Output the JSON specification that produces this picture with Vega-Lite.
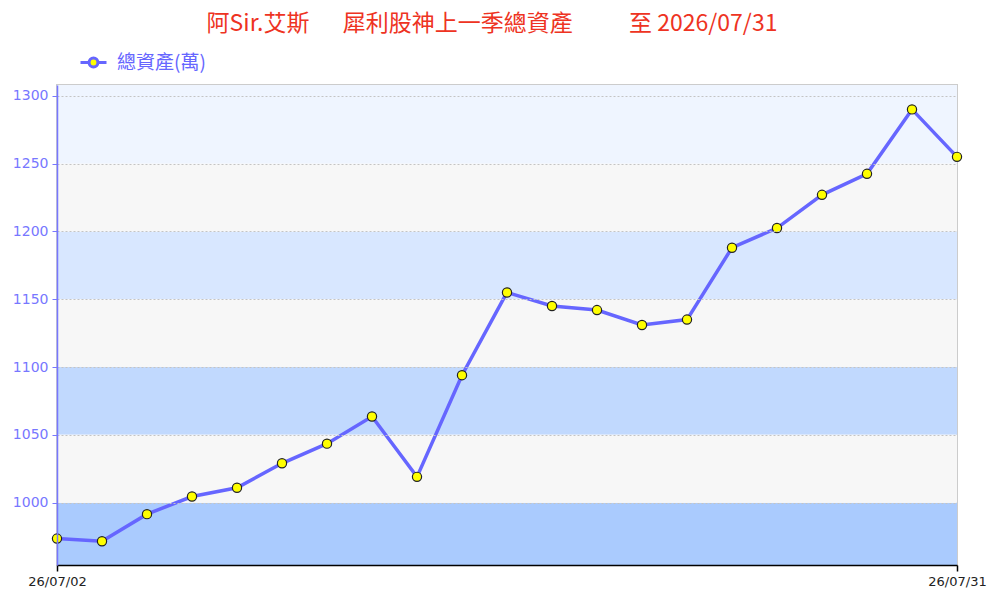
{
  "$schema": "https://vega.github.io/schema/vega-lite/v6.json",
  "width": 900,
  "height": 480,
  "autosize": {"type": "none"},
  "padding": {"left": 57, "top": 85, "right": 39, "bottom": 35},
  "background": "white",
  "title": {
    "text": "阿Sir.艾斯\u3000\u00a0\u00a0犀利股神上一季總資產\u3000\u3000\u00a0\u00a0至 2026/07/31",
    "color": "#ee3322",
    "font": "Noto Sans CJK TC",
    "fontSize": 23,
    "fontWeight": "normal",
    "anchor": "middle",
    "dx": -15,
    "offset": 12
  },
  "config": {
    "view": {"stroke": "#cccccc", "strokeWidth": 2},
    "font": "DejaVu Sans"
  },
  "layer": [
    {
      "data": {"values": [
        {"lo": 954, "hi": 1000},
        {"lo": 1050, "hi": 1100},
        {"lo": 1150, "hi": 1200},
        {"lo": 1250, "hi": 1308}
      ]},
      "mark": {"type": "rect"},
      "encoding": {
        "x": {"datum": "26/07/02", "type": "ordinal"},
        "x2": {"datum": "26/07/31"},
        "y": {"field": "lo", "type": "quantitative"},
        "y2": {"field": "hi"},
        "fill": {
          "field": "lo", "type": "quantitative",
          "scale": {"domain": [954, 1250], "range": ["#aacbfe", "#eff5ff"]},
          "legend": null
        }
      }
    },
    {
      "data": {"values": [
        {"lo": 1000, "hi": 1050},
        {"lo": 1100, "hi": 1150},
        {"lo": 1200, "hi": 1250}
      ]},
      "mark": {"type": "rect", "fill": "#f7f7f7"},
      "encoding": {
        "x": {"datum": "26/07/02", "type": "ordinal"},
        "x2": {"datum": "26/07/31"},
        "y": {"field": "lo", "type": "quantitative"},
        "y2": {"field": "hi"}
      }
    },
    {
      "data": {"values": [
        {"date": "26/07/02", "value": 973.5},
        {"date": "26/07/03", "value": 971.5},
        {"date": "26/07/06", "value": 991.5},
        {"date": "26/07/07", "value": 1004.5},
        {"date": "26/07/08", "value": 1011},
        {"date": "26/07/09", "value": 1029},
        {"date": "26/07/13", "value": 1043.5},
        {"date": "26/07/14", "value": 1063.5},
        {"date": "26/07/15", "value": 1019},
        {"date": "26/07/16", "value": 1094},
        {"date": "26/07/17", "value": 1155},
        {"date": "26/07/20", "value": 1145},
        {"date": "26/07/21", "value": 1142},
        {"date": "26/07/22", "value": 1131},
        {"date": "26/07/23", "value": 1135},
        {"date": "26/07/24", "value": 1188},
        {"date": "26/07/27", "value": 1202.5},
        {"date": "26/07/28", "value": 1227},
        {"date": "26/07/29", "value": 1242.5},
        {"date": "26/07/30", "value": 1290},
        {"date": "26/07/31", "value": 1255}
      ]},
      "layer": [
        {
          "mark": {"type": "line", "strokeWidth": 3.5, "clip": false},
          "encoding": {
            "x": {
              "field": "date", "type": "ordinal", "sort": null,
              "scale": {
                "type": "point", "padding": 0,
                "domain": ["26/07/02","26/07/03","26/07/06","26/07/07","26/07/08","26/07/09","26/07/13","26/07/14","26/07/15","26/07/16","26/07/17","26/07/20","26/07/21","26/07/22","26/07/23","26/07/24","26/07/27","26/07/28","26/07/29","26/07/30","26/07/31"]
              },
              "axis": {
                "values": ["26/07/02", "26/07/31"],
                "title": null,
                "labelAngle": 0,
                "labelAlign": "center",
                "labelBaseline": "top",
                "labelFlush": false,
                "labelBound": false,
                "labelOverlap": false,
                "grid": false,
                "labelColor": "#222222",
                "labelFontSize": 13,
                "labelPadding": 4,
                "domainColor": "#000000",
                "domainWidth": 1.5,
                "tickColor": "#000000",
                "tickWidth": 1.5,
                "tickSize": 6
              }
            },
            "y": {
              "field": "value", "type": "quantitative",
              "scale": {"domain": [954, 1308], "nice": false, "zero": false},
              "axis": {
                "values": [1000, 1050, 1100, 1150, 1200, 1250, 1300],
                "format": "d",
                "title": null,
                "labelColor": "#7777ff",
                "labelFontSize": 14,
                "labelPadding": 4,
                "domainColor": "#7777ff",
                "domainWidth": 1.5,
                "tickColor": "#7777ff",
                "tickSize": 5,
                "grid": true,
                "gridColor": "#c4c4c4",
                "gridDash": [2, 2],
                "zindex": 1
              }
            },
            "color": {
              "datum": "總資產(萬)",
              "type": "nominal",
              "scale": {"range": ["#6666ff"]},
              "legend": {
                "title": null,
                "orient": "none",
                "legendX": 22,
                "legendY": -37,
                "symbolType": "M-1,0L-0.38,0M0.38,0L1,0M0.34,0A0.34,0.34 0 1 1 -0.34,0A0.34,0.34 0 1 1 0.34,0Z",
                "symbolSize": 676,
                "symbolFillColor": "#ffff00",
                "symbolStrokeColor": "#6666ff",
                "symbolStrokeWidth": 3,
                "labelColor": "#6666ff",
                "labelFont": "Noto Sans CJK TC",
                "labelFontSize": 19,
                "labelOffset": 9
              }
            }
          }
        },
        {
          "mark": {"type": "point", "filled": true, "fill": "#ffff00", "stroke": "#222222", "strokeWidth": 1.2, "size": 85, "opacity": 1, "clip": false},
          "encoding": {
            "x": {"field": "date", "type": "ordinal", "sort": null},
            "y": {"field": "value", "type": "quantitative"}
          }
        }
      ]
    }
  ]
}
